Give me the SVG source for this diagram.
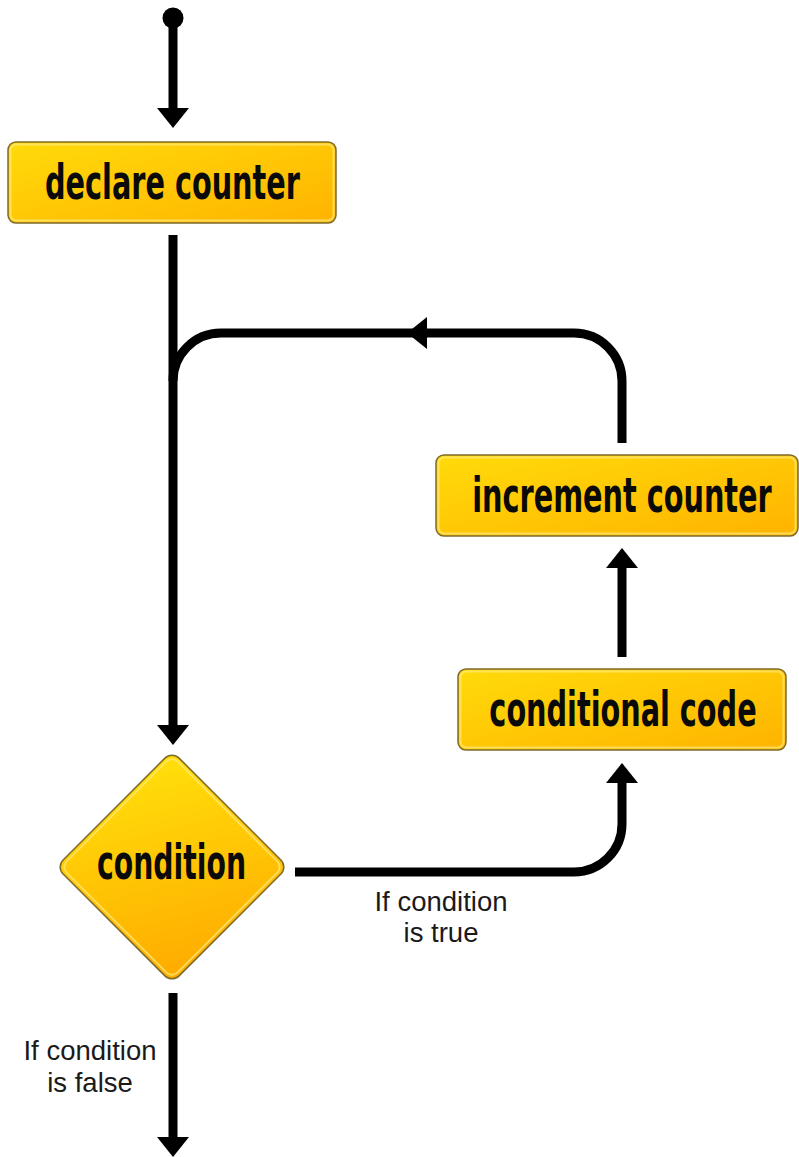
<svg xmlns="http://www.w3.org/2000/svg" width="799" height="1157" viewBox="0 0 799 1157">
<defs>
<linearGradient id="gBox" x1="0" y1="0" x2="1" y2="1">
<stop offset="0" stop-color="#FFDB0A"/>
<stop offset="1" stop-color="#FFB300"/>
</linearGradient>
<linearGradient id="gDia" x1="0" y1="0.2" x2="1" y2="0.8">
<stop offset="0" stop-color="#FFDC0A"/>
<stop offset="1" stop-color="#FFAE00"/>
</linearGradient>
<marker id="ah" markerUnits="userSpaceOnUse" markerWidth="20" markerHeight="32" viewBox="0 -16 20 32" refX="0" refY="0" orient="auto">
<path d="M0,-16 L20,0 L0,16 Z" fill="#000"/>
</marker>
<style>
.box{fill:url(#gBox);stroke:#7d6a2a;stroke-width:1.5}
.hi{fill:none;stroke:#FFE97A;stroke-width:2;opacity:0.7}
.lbl{font-family:"DejaVu Sans Condensed","DejaVu Sans",sans-serif;font-weight:bold;font-size:48px;fill:#0a0a0a;text-anchor:middle}
.note{font-family:"Liberation Sans",Arial,sans-serif;font-size:27.5px;fill:#1a1a1a;text-anchor:middle}
.ln{fill:none;stroke:#000;stroke-width:9}
</style>
</defs>
<rect width="799" height="1157" fill="#fff"/>

<g id="connectors">
<circle cx="173" cy="18" r="10.5" fill="#000"/>
<path class="ln" d="M173,18 V108" marker-end="url(#ah)"/>
<path class="ln" d="M173,235 V725" marker-end="url(#ah)"/>
<path class="ln" d="M622,443 V381 A48,48 0 0 0 574,333 H221 A48,48 0 0 0 173,381"/>
<path d="M407,333 L427,317 L427,349 Z" fill="#000"/>
<path class="ln" d="M622,657 V568" marker-end="url(#ah)"/>
<path class="ln" d="M295,872 H574 A48,48 0 0 0 622,824 V783" marker-end="url(#ah)"/>
<path class="ln" d="M173,993 V1137" marker-end="url(#ah)"/>
</g>

<g id="declare">
<rect class="box" x="8" y="142" width="328" height="81" rx="8"/>
<rect class="hi" x="10.5" y="144.5" width="323" height="76" rx="6"/>
<text class="lbl" transform="translate(172.5,199) scale(0.665,1)">declare counter</text>
</g>

<g id="increment">
<rect class="box" x="436" y="455" width="362" height="81" rx="8"/>
<rect class="hi" x="438.5" y="457.5" width="357" height="76" rx="6"/>
<text class="lbl" transform="translate(622,512) scale(0.665,1)">increment counter</text>
</g>

<g id="conditional">
<rect class="box" x="458" y="669" width="328" height="81" rx="8"/>
<rect class="hi" x="460.5" y="671.5" width="323" height="76" rx="6"/>
<text class="lbl" transform="translate(623,726) scale(0.665,1)">conditional code</text>
</g>

<g id="condition">
<rect x="-82" y="-82" width="164" height="164" rx="10" transform="translate(172,867) rotate(45)" fill="url(#gDia)" stroke="#7d6a2a" stroke-width="1.5"/>
<rect x="-78.5" y="-78.5" width="157" height="157" rx="8" transform="translate(172,867) rotate(45)" class="hi"/>
<text class="lbl" transform="translate(171.5,879) scale(0.655,1)">condition</text>
</g>

<g id="labels">
<text class="note" x="441" y="911">If condition</text>
<text class="note" x="441" y="942">is true</text>
<text class="note" x="90" y="1060">If condition</text>
<text class="note" x="90" y="1092">is false</text>
</g>
</svg>
